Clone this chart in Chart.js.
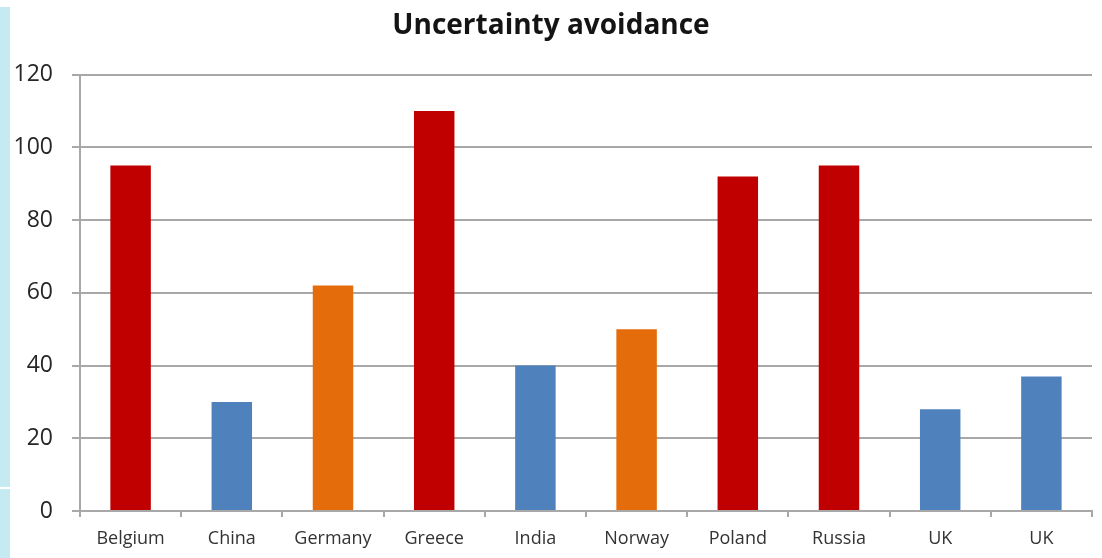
<!DOCTYPE html>
<html>
<head>
<meta charset="utf-8">
<title>Uncertainty avoidance</title>
<script src="https://cdn.jsdelivr.net/npm/chart.js@4/dist/chart.umd.min.js"></script>
<style>
  html, body { margin: 0; padding: 0; background: #fff; }
  #wrap { position: relative; width: 1102px; height: 558px; }
  #strip { position: absolute; left: 0; top: 7px; width: 10px; height: 551px; background: #c6eaf1; }
  #strip .cut { position: absolute; left: 0; top: 480px; width: 10px; height: 2px; background: #fff; }
  canvas { position: absolute; left: 0; top: 0; }
</style>
</head>
<body>
<div id="wrap">
  <div id="strip"><div class="cut"></div></div>
  <canvas id="chart" width="1102" height="558"></canvas>
</div>
<script>
const countries = ["Belgium", "China", "Germany", "Greece", "India", "Norway", "Poland", "Russia", "UK", "UK"];
const scores = [95, 30, 62, 110, 40, 50, 92, 95, 28, 37];
// which colour group each bar belongs to
const levels = ["high", "low", "mid", "high", "low", "mid", "high", "high", "low", "low"];
const yTicks = [0, 20, 40, 60, 80, 100, 120];

const levelColors = { high: "#c00000", mid: "#e46c0a", low: "#4f81bd" };

document.addEventListener("DOMContentLoaded", function () {
  const ctx = document.getElementById("chart").getContext("2d");

  new Chart(ctx, {
    type: "bar",
    data: {
      labels: countries,
      datasets: [
        {
          label: "Uncertainty avoidance",
          data: scores,
          backgroundColor: levels.map((l) => levelColors[l]),
          borderWidth: 0,
          barPercentage: 0.4,
          categoryPercentage: 1,
        },
      ],
    },
    options: {
      responsive: false,
      animation: false,
      layout: { padding: { left: 10, right: 10, top: 0, bottom: 0 } },
      plugins: {
        legend: { display: false },
        tooltip: { enabled: false },
        title: {
          display: true,
          text: "Uncertainty avoidance",
          color: "#141414",
          font: { family: "'Open Sans', sans-serif", size: 28, weight: "bold" },
          padding: { top: 9, bottom: 32 },
        },
      },
      scales: {
        x: {
          grid: {
            offset: true,
            drawOnChartArea: false,
            drawTicks: true,
            tickLength: 6,
            color: "#a8a8a8",
            lineWidth: 2,
          },
          border: { color: "#a8a8a8", width: 2 },
          ticks: {
            color: "#333",
            padding: 11,
            font: { family: "'Open Sans', sans-serif", size: 18 },
          },
          afterFit: (scale) => { scale.height = 47; },
        },
        y: {
          min: 0,
          max: 120,
          afterBuildTicks: (scale) => {
            scale.ticks = yTicks.map((v) => ({ value: v }));
          },
          grid: {
            color: "#a8a8a8",
            lineWidth: 2,
            tickLength: 8,
          },
          border: { color: "#a8a8a8", width: 2 },
          ticks: {
            color: "#262626",
            padding: 19,
            font: { family: "'Open Sans', sans-serif", size: 23 },
          },
          afterFit: (scale) => { scale.width = 70; },
        },
      },
    },
  });
});
</script>
</body>
</html>
